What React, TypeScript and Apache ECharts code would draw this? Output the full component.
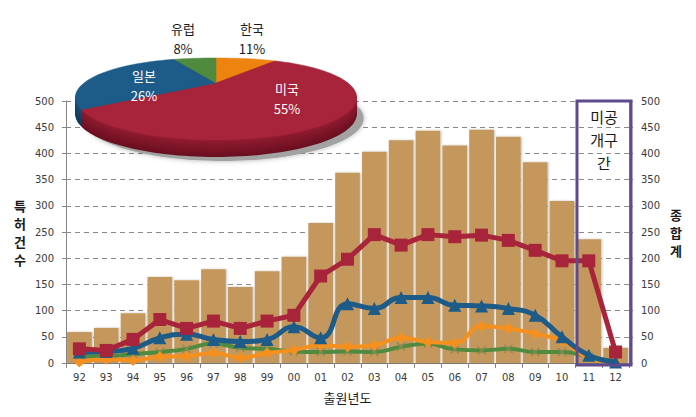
import React, { useEffect, useRef } from 'react';
import * as echarts from 'echarts';

const years = ['92', '93', '94', '95', '96', '97', '98', '99', '00', '01', '02', '03', '04', '05', '06', '07', '08', '09', '10', '11', '12'];
const totals = [59, 67, 95, 164, 158, 179, 145, 175, 203, 267, 363, 403, 425, 443, 415, 445, 432, 383, 309, 236, 29];
const usa = [27, 24, 45, 83, 66, 80, 66, 80, 91, 166, 198, 245, 225, 245, 241, 244, 234, 215, 195, 195, 21];
const japan = [21, 22, 28, 48, 55, 45, 41, 45, 69, 48, 113, 104, 125, 125, 110, 109, 104, 91, 50, 15, 2];
const korea = [2, 7, 5, 12, 13, 19, 10, 19, 25, 34, 31, 34, 48, 40, 38, 70, 66, 56, 42, 10, 2];
const europe = [13, 13, 17, 21, 27, 37, 29, 27, 22, 21, 22, 21, 31, 37, 26, 24, 27, 21, 21, 12, 3];
const yTicks = { min: 0, max: 500, interval: 50 };

const pieNames = ['한국', '미국', '일본', '유럽'];
const pieValues = [11, 55, 26, 8];

// layout / style (not data)
const PIE = { cx: 216, cy: 83, rx: 132, ry: 41, k: 0.39, depth: 17 };
const pieTop = ['#EC840F', '#A8243B', '#1D5B88', '#4F8A3F'];
const pieSide = ['#9E5508', '#6A0F20', '#0F3856', '#2F5A26'];
const pieLabelPos = [[252, 38], [287, 98], [144, 85], [183, 38]];
const pieLabelColor = ['#1a1a1a', '#ffffff', '#ffffff', '#1a1a1a'];

const FONT = 'DejaVu Sans';
const KFONT = 'Noto Sans CJK KR';

function pt(a: number, dx: number, dy: number) {
  const p = 1 + PIE.k * Math.sin(a);
  return [PIE.cx + PIE.rx * Math.cos(a) * p + dx, PIE.cy + PIE.ry * Math.sin(a) * p + dy];
}

function arcPts(a0: number, a1: number, dx: number, dy: number) {
  const pts: number[][] = [];
  const n = Math.max(2, Math.ceil(Math.abs(a1 - a0) / (Math.PI / 90)));
  for (let i = 0; i <= n; i++) pts.push(pt(a0 + ((a1 - a0) * i) / n, dx, dy));
  return pts;
}

function mix(c1: string, c2: string, t: number) {
  const a = parseInt(c1.slice(1), 16);
  const b = parseInt(c2.slice(1), 16);
  const ch = (s: number) => Math.round(((a >> s) & 255) * (1 - t) + ((b >> s) & 255) * t);
  return `rgb(${ch(16)},${ch(8)},${ch(0)})`;
}

function renderPie(params: any, api: any) {
  const idx = params.dataIndex;
  const total = pieValues.reduce((s, v) => s + v, 0);
  let before = 0;
  for (let i = 0; i < idx; i++) before += pieValues[i];
  const v = api.value(0);
  const a0 = -Math.PI / 2 + (before / total) * Math.PI * 2;
  const a1 = a0 + (v / total) * Math.PI * 2;
  const children: any[] = [];
  if (idx === 0) {
    children.push({
      type: 'polygon',
      shape: { points: arcPts(0, Math.PI * 2, 7, PIE.depth + 4) },
      style: { fill: '#a2a2a2', shadowBlur: 5, shadowColor: 'rgba(0,0,0,0.3)' },
      z2: 0,
    });
  }
  const apex = [PIE.cx, PIE.cy];
  for (let d = PIE.depth; d >= 1; d--) {
    children.push({
      type: 'polygon',
      shape: { points: [[apex[0], apex[1] + d]].concat(arcPts(a0, a1, 0, d)) },
      style: { fill: mix(pieTop[idx], pieSide[idx], 0.35 + 0.65 * (d / PIE.depth)) },
      z2: 2 + PIE.depth - d,
    });
  }
  children.push({
    type: 'polygon',
    shape: { points: [apex].concat(arcPts(a0, a1, 0, 0)) },
    style: { fill: pieTop[idx], stroke: pieTop[idx], lineWidth: 0.5 },
    z2: 40,
  });
  children.push({
    type: 'text',
    x: pieLabelPos[idx][0],
    y: pieLabelPos[idx][1],
    style: {
      text: pieNames[idx] + '\n' + v + '%',
      fill: pieLabelColor[idx],
      font: `13px "${KFONT}"`,
      align: 'center',
      verticalAlign: 'middle',
      lineHeight: 20,
    },
    z2: 50,
  });
  return { type: 'group', children };
}

const xSymbol = 'path://M0,1 L1,0 L5,4 L9,0 L10,1 L6,5 L10,9 L9,10 L5,6 L1,10 L0,9 L4,5 Z';

export default function App() {
  const ref = useRef<HTMLDivElement>(null);
  useEffect(() => {
    document.body.style.margin = '0';
    const chart = echarts.init(ref.current!, undefined, { renderer: 'svg' });
    const axisLabel = { fontFamily: FONT, fontSize: 10, color: '#3a3a3a' };
    chart.setOption({
      animation: false,
      backgroundColor: '#ffffff',
      grid: { left: 66, right: 67, top: 101, bottom: 54, containLabel: false },
      xAxis: {
        type: 'category',
        data: years,
        axisLine: { lineStyle: { color: '#868686', width: 1 } },
        axisTick: { show: true, length: 5, lineStyle: { color: '#868686' } },
        axisLabel: { ...axisLabel, margin: 9 },
        name: '출원년도',
        nameLocation: 'middle',
        nameGap: 28,
        nameTextStyle: { fontFamily: KFONT, fontSize: 13, color: '#1a1a1a' },
      },
      yAxis: [
        {
          type: 'value',
          ...yTicks,
          axisLine: { show: true, lineStyle: { color: '#868686' } },
          axisTick: { show: true, length: 4, lineStyle: { color: '#868686' } },
          axisLabel: { ...axisLabel, margin: 12 },
          splitLine: { show: true, lineStyle: { color: '#8a8a8a', type: [5, 4], width: 1 } },
          name: '특\n허\n건\n수',
          nameLocation: 'middle',
          nameRotate: 0,
          nameGap: 40,
          nameTextStyle: { fontFamily: KFONT, fontSize: 13, color: '#1a1a1a', lineHeight: 18, fontWeight: 'bold' },
        },
        {
          type: 'value',
          ...yTicks,
          position: 'right',
          axisLine: { show: true, lineStyle: { color: '#868686' } },
          axisTick: { show: true, length: 4, lineStyle: { color: '#868686' } },
          axisLabel: { ...axisLabel, margin: 12 },
          splitLine: { show: false },
          name: '종\n합\n계',
          nameLocation: 'middle',
          nameRotate: 0,
          nameGap: 41,
          nameTextStyle: { fontFamily: KFONT, fontSize: 13, color: '#1a1a1a', lineHeight: 18, fontWeight: 'bold' },
        },
      ],
      series: [
        {
          name: '총합계',
          type: 'bar',
          data: totals,
          barCategoryGap: '8%',
          itemStyle: { color: '#C4985C', shadowBlur: 2, shadowColor: 'rgba(0,0,0,0.25)', shadowOffsetX: 1, shadowOffsetY: 0 },
          z: 2,
        },
        {
          name: '유럽',
          type: 'line',
          data: europe,
          smooth: true,
          symbol: xSymbol,
          symbolSize: 9,
          itemStyle: { color: '#8C8A52' },
          lineStyle: { color: '#4F8A3F', width: 4 },
          z: 3,
        },
        {
          name: '한국',
          type: 'line',
          data: korea,
          smooth: true,
          symbol: 'diamond',
          symbolSize: 11,
          itemStyle: { color: '#F5901E' },
          lineStyle: { color: '#F5901E', width: 4 },
          z: 4,
        },
        {
          name: '일본',
          type: 'line',
          data: japan,
          smooth: true,
          symbol: 'triangle',
          symbolSize: 13,
          itemStyle: { color: '#1D5B88' },
          lineStyle: { color: '#1D5B88', width: 5 },
          z: 5,
        },
        {
          name: '미국',
          type: 'line',
          data: usa,
          smooth: false,
          symbol: 'rect',
          symbolSize: 13,
          itemStyle: { color: '#A8243B' },
          lineStyle: { color: '#A8243B', width: 5 },
          z: 6,
        },
        {
          name: 'share',
          type: 'custom',
          coordinateSystem: 'none',
          renderItem: renderPie,
          data: pieValues.map((v, i) => ({ name: pieNames[i], value: v })),
          z: 20,
          silent: true,
        },
      ],
      graphic: [
        {
          type: 'rect',
          shape: { x: 577, y: 101, width: 54, height: 264 },
          style: { fill: 'none', stroke: '#5F4B8B', lineWidth: 3 },
          z: 30,
        },
        {
          type: 'text',
          x: 604,
          y: 139,
          style: {
            text: '미공\n개구\n간',
            font: `15px "${KFONT}"`,
            fill: '#1a1a1a',
            align: 'center',
            verticalAlign: 'middle',
            lineHeight: 23,
          },
          z: 30,
        },
      ],
    });
    return () => chart.dispose();
  }, []);
  return <div ref={ref} style={{ width: 696, height: 417 }} />;
}
